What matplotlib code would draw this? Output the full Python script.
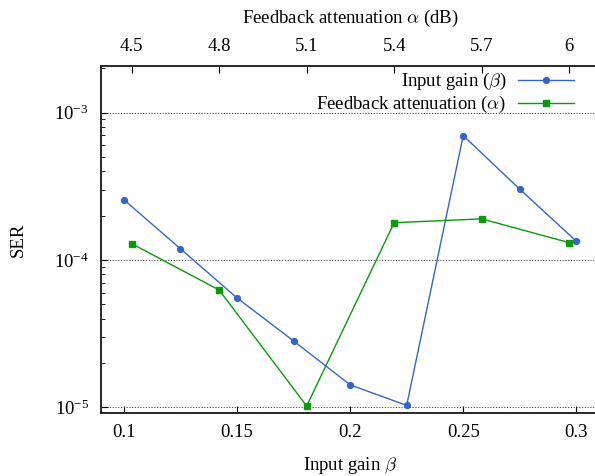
import matplotlib
matplotlib.use("Agg")
import matplotlib.pyplot as plt
from matplotlib.ticker import LogLocator, NullFormatter, NullLocator

plt.rcParams['font.family'] = ['Liberation Serif', 'DejaVu Serif']
plt.rcParams['mathtext.fontset'] = 'cm'
plt.rcParams['font.size'] = 13.5

# Data
beta = [0.1, 0.125, 0.15, 0.175, 0.2, 0.225, 0.25, 0.275, 0.3]
ser_beta = [2.56e-4, 1.19e-4, 5.52e-5, 2.82e-5, 1.42e-5, 1.03e-5, 6.98e-4, 3.02e-4, 1.34e-4]
alpha = [4.5, 4.8, 5.1, 5.4, 5.7, 6.0]
ser_alpha = [1.29e-4, 6.25e-5, 1.02e-5, 1.79e-4, 1.90e-4, 1.31e-4]
beta_ticks = [0.1, 0.15, 0.2, 0.25, 0.3]
beta_ticklabels = ['0.1', '0.15', '0.2', '0.25', '0.3']
alpha_ticks = [4.5, 4.8, 5.1, 5.4, 5.7, 6.0]
alpha_ticklabels = ['4.5', '4.8', '5.1', '5.4', '5.7', '6']

blue = '#3565cc'
green = '#0a9a0a'

fig = plt.figure(figsize=(5.95, 4.76), dpi=100)
ax = fig.add_axes([0.1703, 0.1324, 0.8363, 0.7289])
ax2 = ax.twiny()

l1, = ax.plot(beta, ser_beta, '-o', color=blue, lw=1.0, ms=4.2, label=r'Input gain ($\beta$)')
l2, = ax2.plot(alpha, ser_alpha, '-s', color=green, lw=1.0, ms=4.2, label=r'Feedback attenuation ($\alpha$)')

ax.set_yscale('log')
ax.set_ylim(9.15e-6, 2.07e-3)
ax.set_xlim(0.09, 0.31)
ax2.set_xlim(4.396, 6.102)

ax.set_xticks(beta_ticks)
ax.set_xticklabels(beta_ticklabels)
ax2.set_xticks(alpha_ticks)
ax2.set_xticklabels(alpha_ticklabels)
ax.xaxis.set_minor_locator(NullLocator())
ax2.xaxis.set_minor_locator(NullLocator())

ax.yaxis.set_major_locator(LogLocator(base=10, numticks=10))
ax.yaxis.set_minor_locator(LogLocator(base=10, subs=range(2, 10), numticks=20))
ax.yaxis.set_minor_formatter(NullFormatter())

ax.grid(True, axis='y', which='major', linestyle=(0, (1, 1.5)), color='#444444', lw=0.8)
ax.tick_params(which='both', direction='in', top=False, right=False)
ax.tick_params(axis='x', which='major', length=5, width=0.8, pad=8)
ax.tick_params(axis='y', which='major', length=5, width=0.8, pad=9)
ax.tick_params(which='minor', length=3, width=0.6)
ax2.tick_params(which='both', direction='in', length=5, width=0.8, pad=8)

for a in (ax, ax2):
    for s in a.spines.values():
        s.set_linewidth(1.1)
        s.set_color('#222222')

ax.set_xlabel(r'Input gain $\beta$', labelpad=10)
ax.set_ylabel('SER', labelpad=20)
ax2.set_xlabel(r'Feedback attenuation $\alpha$ (dB)', labelpad=11)

ax2.legend(handles=[l1, l2], loc='upper right', frameon=False, markerfirst=False,
           bbox_to_anchor=(0.95, 0.985), handlelength=3.0, handletextpad=0.6,
           labelspacing=0.1, borderaxespad=0.0, borderpad=0.0)

fig.savefig('out.png', dpi=100)
